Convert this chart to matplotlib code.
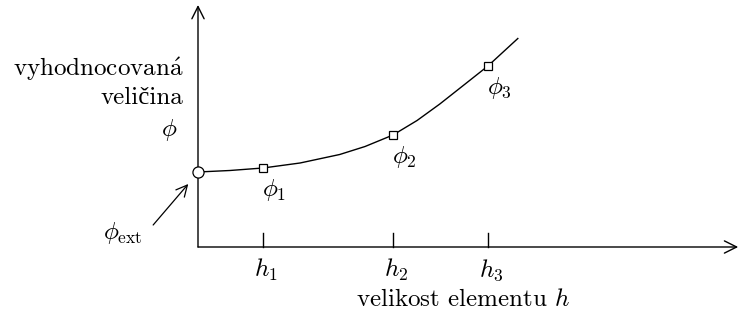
import matplotlib
matplotlib.use("Agg")
import matplotlib.pyplot as plt

plt.rcParams['font.family'] = ['cmr10', 'Liberation Serif']
plt.rcParams['mathtext.fontset'] = 'cm'
plt.rcParams['axes.unicode_minus'] = False

# element sizes h1..h3 and evaluated values phi1..phi3
h_pts = [1.0, 3.0, 4.46]
phi_pts = [1.58, 2.24, 3.62]
h_labels = [r'$h_1$', r'$h_2$', r'$h_3$']
phi_labels = [r'$\phi_1$', r'$\phi_2$', r'$\phi_3$']
phi_ext = 1.50

# convergence curve
curve_h = [0.0, 0.49, 1.0, 1.57, 2.18, 2.57, 3.0, 3.37, 3.72, 4.11, 4.46, 4.92]
curve_phi = [1.50, 1.53, 1.58, 1.68, 1.85, 2.01, 2.24, 2.53, 2.86, 3.26, 3.62, 4.17]

fig = plt.figure(figsize=(7.45, 3.25), dpi=100)
ax = fig.add_axes([0, 0, 1, 1])
ax.set_xlim(-3.046, 8.415)
ax.set_ylim(-1.56, 4.94)
ax.axis('off')

fs = 18
arr = dict(arrowstyle='->', lw=1.0, color='black', mutation_scale=22,
           shrinkA=0, shrinkB=0)
# axes with open arrowheads
ax.annotate('', xy=(8.31, 0), xytext=(0, 0), arrowprops=arr)
ax.annotate('', xy=(0, 4.84), xytext=(0, 0), arrowprops=arr)

ax.plot(curve_h, curve_phi, color='black', lw=1.0, solid_joinstyle='round')
ax.plot(h_pts, phi_pts, ls='none', marker='s', ms=6, mfc='white',
        mec='black', mew=0.9)
ax.plot([0], [phi_ext], ls='none', marker='o', ms=8, mfc='white',
        mec='black', mew=0.9, clip_on=False, zorder=5)

for h, lab in zip(h_pts, h_labels):
    ax.plot([h, h], [0, 0.28], color='black', lw=1.0)
    ax.text(h + 0.05, -0.46, lab, ha='center', va='center', fontsize=fs)

for h, p, lab in zip(h_pts, phi_pts, phi_labels):
    ax.text(h + 0.17, p - 0.44, lab, ha='center', va='center', fontsize=fs)

ax.text(4.08, -1.06, r'velikost elementu $h$', ha='center', va='center',
        fontsize=fs)
ax.text(-0.23, 3.56, r'vyhodnocovan$\mathrm{\acute{a}}$', ha='right',
        va='center', fontsize=fs)
ax.text(-0.23, 2.98, 'veličina', ha='right', va='center', fontsize=fs)
ax.text(-0.45, 2.34, r'$\phi$', ha='center', va='center', fontsize=fs)

# extrapolated value with its pointer
ax.text(-1.15, 0.28, r'$\phi_{\rm ext}$', ha='center', va='center',
        fontsize=fs)
ax.annotate('', xy=(-0.15, 1.26), xytext=(-0.69, 0.44),
            arrowprops=dict(arrowstyle='->', lw=0.9, color='black',
                            mutation_scale=20, shrinkA=0, shrinkB=0))

fig.savefig('out.png', dpi=100)
